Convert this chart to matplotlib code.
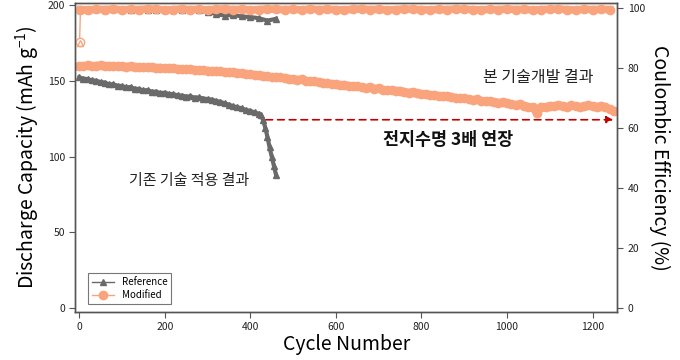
import matplotlib
matplotlib.use("Agg")
import matplotlib.pyplot as plt

plt.rcParams['font.family'] = ['Noto Sans CJK KR', 'DejaVu Sans']
plt.rcParams['mathtext.default'] = 'regular'

# discharge capacity, reference cell (mAh/g)
ref_cyc = [0, 10, 20, 30, 40, 50, 60, 70, 80, 90, 100, 110, 120, 130, 140, 150,
           160, 170, 180, 190, 200, 210, 220, 230, 240, 250, 260, 270, 280, 290,
           300, 310, 320, 330, 340, 350, 360, 370, 380, 390, 400, 410, 420,
           425, 430, 435, 440, 445, 450, 455, 460]
ref_cap = [152.3, 151.4, 151.2, 150.3, 150.1, 149.2, 148.9, 147.6, 147.8, 146.7,
           146.6, 145.7, 145.9, 144.8, 144.6, 143.7, 143.9, 142.8, 142.9, 141.9,
           142.2, 141.3, 141.2, 140.4, 140.3, 139.6, 139.8, 138.9, 139.1, 138.3,
           138.0, 137.6, 136.7, 136.2, 135.1, 134.3, 133.2, 132.6, 131.8, 130.7,
           130.2, 129.1, 128.3, 127.2, 124.0, 119.0, 113.0, 106.0, 100.0, 94.0, 88.0]

# discharge capacity, modified cell
mod_cyc = list(range(0, 1260, 10))
mod_cap = [159.5, 159.9, 160.2, 159.8, 160.1, 160.3, 159.9, 160.0, 159.7, 159.9,
           159.6, 159.4, 159.7, 159.3, 159.2, 159.0, 159.3, 158.9, 158.7, 158.8,
           158.4, 158.2, 158.5, 158.0, 157.8, 157.6, 157.9, 157.3, 157.1, 157.2,
           156.8, 156.5, 156.7, 156.2, 155.9, 155.6, 155.8, 155.2, 154.9, 154.6,
           154.4, 154.0, 153.8, 153.5, 153.1, 152.6, 152.8, 152.3, 151.9, 151.5,
           151.1, 150.8, 151.0, 150.2, 149.9, 149.6, 149.2, 148.9, 148.4, 148.1,
           147.6, 147.3, 147.5, 146.8, 146.4, 146.6, 145.9, 145.4, 145.7, 144.9,
           145.1, 144.2, 143.8, 144.1, 143.4, 143.6, 142.7, 142.3, 142.6, 141.7,
           141.5, 141.2, 140.6, 140.9, 140.1, 139.8, 140.2, 139.4, 138.9, 138.6,
           138.8, 137.9, 137.4, 137.7, 136.9, 136.5, 136.8, 136.0, 135.6, 135.9,
           135.4, 134.7, 134.2, 134.6, 133.6, 132.8, 132.4, 128.5, 133.0, 132.6,
           133.6, 133.2, 134.0, 133.4, 132.7, 133.8, 133.3, 132.6, 133.5, 133.9,
           133.4, 132.8, 133.6, 132.5, 131.4, 130.0]

# coulombic efficiency (%)
ce_ref_cyc = [1, 3, 20, 40, 60, 80, 100, 120, 140, 160, 180, 200, 220, 240, 260, 280,
              300, 320, 340, 360, 380, 400, 420, 440, 460]
ce_ref = [88.5, 99.5, 99.5, 99.6, 99.5, 99.6, 99.5, 99.4, 99.5, 99.4, 99.5, 99.4, 99.4,
          99.3, 99.4, 99.2, 98.7, 98.0, 97.5, 97.7, 97.2, 97.0, 96.6, 95.8, 96.4]
ce_mod_cyc = [1, 3] + list(range(20, 1260, 20))
ce_mod = [88.8, 99.5, 99.4, 99.6, 99.5, 99.7, 99.4, 99.6, 99.5, 99.7, 99.6, 99.4, 99.5,
          99.7, 99.5, 99.6, 99.4, 99.6, 99.7, 99.5, 99.6, 99.4, 99.5, 99.7, 99.6,
          99.5, 99.6, 99.4, 99.7, 99.5, 99.6, 99.5, 99.4, 99.6, 99.7, 99.5, 99.6,
          99.4, 99.5, 99.7, 99.6, 99.5, 99.4, 99.6, 99.5, 99.7, 99.6, 99.5, 99.4,
          99.6, 99.5, 99.7, 99.5, 99.6, 99.4, 99.5, 99.6, 99.7, 99.5, 99.4, 99.6,
          99.5, 99.6, 99.5]

gray = '#6a6a6a'
orange = '#f9a47c'
axc = '#555555'

fig = plt.figure(figsize=(6.8, 3.6), dpi=100)
ax = fig.add_axes([0.111, 0.134, 0.797, 0.857])
ax2 = ax.twinx()

ax.plot(ref_cyc, ref_cap, '-^', color=gray, ms=5, lw=3, label='Reference')
ax.plot(mod_cyc, mod_cap, '-o', color=orange, ms=6, lw=5.5, label='Modified')

ax2.plot(ce_ref_cyc[1:], ce_ref[1:], '-^', color=gray, ms=5, lw=3)
ax2.plot(ce_mod_cyc[1:], ce_mod[1:], '-o', color=orange, ms=6, lw=5.5)
# first cycle drawn hollow, joined by a thin line
ax2.plot(ce_mod_cyc[:2], ce_mod[:2], '-', color=orange, lw=1)
ax2.plot(ce_mod_cyc[0], ce_mod[0], 'o', mfc='white', mec=orange, ms=6)
ax2.plot(ce_ref_cyc[0], ce_ref[0], '^', mfc='none', mec=orange, ms=4)

ax.set_xlim(-8.6, 1258)
ax.set_ylim(-2.6, 201.3)
ax2.set_ylim(-1.23, 101.6)
ax.set_xticks([0, 200, 400, 600, 800, 1000, 1200])
ax.set_yticks([0, 50, 100, 150, 200])
ax2.set_yticks([0, 20, 40, 60, 80, 100])

for a in (ax, ax2):
    for s in a.spines.values():
        s.set_color(axc)
        s.set_linewidth(1)
    a.tick_params(colors='#222222', labelsize=7.5, length=4, width=0.8, direction='out')
    a.tick_params(axis='both', color=axc)

ax.set_xlabel('Cycle Number', fontsize=14, labelpad=1)
ax.set_ylabel('Discharge Capacity (mAh g$^{-1}$)', fontsize=14, labelpad=4)
ax2.set_ylabel('Coulombic Efficiency (%)', fontsize=14, rotation=270, labelpad=18)

# annotations
arrow_y = 124.3
arrow_x0, arrow_x1 = 430, 1255
ax.annotate('', xy=(arrow_x1, arrow_y), xytext=(arrow_x0, arrow_y),
            arrowprops=dict(arrowstyle='-|>', color='#c00000', lw=1.2,
                            linestyle=(0, (4, 3)), mutation_scale=10))
ax.text(862, 111, '전지수명 3배 연장', fontsize=12.5, fontweight='bold',
        ha='center', va='center', color='#111111')
ax.text(258, 84, '기존 기술 적용 결과', fontsize=10.8, ha='center', va='center',
        color='#222222')
ax.text(1072, 152.5, '본 기술개발 결과', fontsize=11.5, ha='center', va='center',
        color='#222222')

h, l = ax.get_legend_handles_labels()
leg = ax2.legend(h, l, loc='lower left', fontsize=7, frameon=True, fancybox=False,
                 edgecolor=axc, borderpad=0.4, handlelength=2.2, labelspacing=0.3,
                 bbox_to_anchor=(0.015, 0.01))
leg.get_frame().set_linewidth(0.8)
for lh in leg.legend_handles:
    lh.set_linewidth(1)

fig.savefig('out.png', dpi=100)
